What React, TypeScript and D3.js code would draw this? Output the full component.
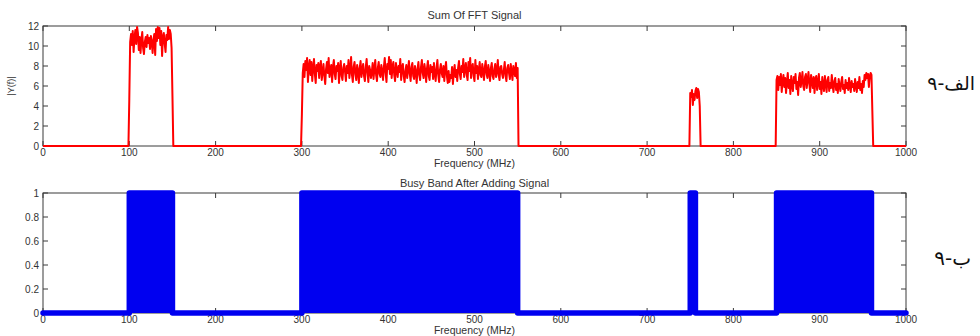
import React from 'react';
import * as d3 from 'd3';

// spectrum magnitude, 1 MHz step; each band starts at its start frequency
const bandStarts = [99, 299, 749, 849];

const band100 = [
  0, 4.7, 10.4, 11.2, 10.1, 11.5, 9.4, 10.8, 11.6, 10.2, 11.9,
  11.3, 9.6, 10.9, 9.3, 10.6, 11.4, 9.8, 9.2, 10.4, 10.9,
  9.9, 11.1, 10.3, 10.8, 9.7, 11.0, 10.4, 9.3, 10.6, 11.2,
  9.1, 11.7, 10.5, 11.9, 10.8, 11.8, 10.1, 11.5, 9.0, 10.9,
  11.3, 10.2, 9.4, 11.1, 10.6, 11.9, 10.7, 11.6, 11.2, 9.8,
  5.0, 0
];

const band300 = [
  0, 3.2,
  7.3, 8.2, 6.9, 8.5, 7.6, 8.8, 6.4, 7.9, 8.6, 7.1,
  8.4, 6.5, 7.8, 8.7, 7.2, 6.3, 8.1, 7.5, 8.3, 6.8,
  7.9, 8.5, 6.6, 7.4, 8.2, 7.0, 6.2, 7.7, 8.4, 7.3,
  8.8, 6.9, 7.6, 8.1, 6.4, 7.9, 8.6, 7.2, 6.7, 8.0,
  7.5, 8.3, 6.3, 7.7, 8.5, 7.0, 6.6, 7.8, 8.2, 7.4,
  6.5, 8.0, 7.3, 8.6, 6.8, 7.6, 8.9, 7.1, 6.4, 7.9,
  8.4, 7.2, 6.6, 8.1, 7.5, 6.3, 7.8, 8.5, 6.9, 7.6,
  8.2, 7.0, 6.5, 7.9, 8.7, 7.3, 6.4, 8.0, 7.6, 6.8,
  7.4, 8.3, 6.7, 7.7, 8.6, 7.1, 6.5, 7.8, 8.4, 7.2,
  6.9, 8.1, 7.5, 6.6, 7.9, 8.8, 7.3, 6.4, 8.2, 7.7,
  8.9, 7.2, 8.6, 6.8, 7.9, 8.4, 7.1, 6.5, 8.3, 7.6,
  6.9, 8.0, 7.4, 8.7, 6.6, 7.8, 8.2, 7.0, 6.4, 7.5,
  8.1, 6.8, 7.6, 8.5, 7.2, 6.5, 7.9, 8.3, 7.0, 6.7,
  8.0, 7.4, 6.3, 7.7, 8.4, 7.1, 6.6, 7.9, 8.6, 7.3,
  6.8, 8.2, 7.5, 6.4, 7.8, 8.5, 7.0, 6.6, 8.1, 7.4,
  7.9, 6.7, 8.3, 7.2, 6.5, 7.8, 8.6, 7.1, 6.4, 7.6,
  8.2, 7.3, 6.9, 8.0, 6.5, 7.7, 8.4, 7.0, 6.3, 7.5,
  6.4, 7.1, 6.8, 7.9, 6.2, 7.4, 8.1, 6.9, 7.6, 6.5,
  7.8, 8.5, 7.2, 6.7, 8.0, 7.4, 8.7, 6.9, 7.7, 8.3,
  7.1, 6.6, 8.4, 7.5, 8.8, 6.8, 7.9, 8.2, 7.0, 6.5,
  8.6, 7.3, 8.0, 6.7, 7.6, 8.4, 7.1, 6.9, 8.2, 7.5,
  6.6, 7.9, 8.5, 7.2, 6.8, 8.1, 7.4, 6.5, 7.8, 8.3,
  7.0, 6.7, 7.7, 8.2, 6.9, 7.5, 8.6, 7.1, 6.6, 7.9,
  8.0, 7.2, 6.8, 7.6, 8.4, 7.0, 6.5, 7.8, 8.1, 7.3,
  6.7, 8.2, 7.4, 6.6, 8.0, 7.5, 7.0, 8.3, 6.8, 7.8,
  0
];

const band750 = [0, 5.3, 4.9, 5.6, 4.1, 5.2, 4.6, 5.5, 5.8, 4.8, 5.7, 5.4, 4.0, 0];

const band850 = [
  0,
  6.6, 7.0, 5.6, 6.9, 6.1, 7.2, 5.4, 6.5, 7.1, 5.9,
  6.8, 5.3, 6.4, 7.3, 5.8, 6.6, 5.2, 7.0, 6.1, 5.5,
  6.9, 6.3, 7.2, 5.7, 6.4, 5.1, 6.8, 7.3, 5.9, 6.5,
  7.4, 6.0, 5.6, 6.9, 7.2, 5.8, 6.6, 7.4, 6.2, 5.4,
  7.1, 6.5, 5.8, 6.9, 5.3, 6.7, 7.0, 5.6, 6.3, 7.2,
  5.7, 6.4, 5.2, 6.9, 6.1, 5.5, 7.0, 6.2, 5.4, 6.6,
  6.9, 5.5, 6.3, 5.8, 7.1, 6.0, 5.4, 6.5, 6.8, 5.6,
  6.2, 5.3, 6.7, 6.0, 5.5, 6.4, 6.9, 5.7, 6.1, 5.3,
  6.6, 5.8, 6.3, 5.6, 6.8, 6.0, 5.4, 6.5, 5.9, 6.2,
  5.5, 6.7, 6.0, 5.4, 6.4, 5.8, 6.9, 5.6, 6.2, 5.3,
  6.5, 5.9, 7.1, 6.6, 7.3, 6.8, 7.2, 5.9, 7.0, 7.3,
  7.1, 3.5, 0
];

const bands = [band100, band300, band750, band850];

// busy bands (detector output 0/1)
const busyStart = [100, 300, 750, 850];
const busyEnd = [150, 550, 756, 960];

const xTicks = [0, 100, 200, 300, 400, 500, 600, 700, 800, 900, 1000];
const yTopTicks = [0, 2, 4, 6, 8, 10, 12];
const yBotTicks = [0, 0.2, 0.4, 0.6, 0.8, 1];

const FONT = '"Liberation Sans", Arial, sans-serif';
const AX = '#3a3a3a';

const x = d3.scaleLinear().domain([0, 1000]).range([43, 906]);
const yTop = d3.scaleLinear().domain([0, 12]).range([146, 26]);
const yBot = d3.scaleLinear().domain([0, 1]).range([313, 193]);

function Frame({ y, yTicks, title, titleY }: any) {
  const [y0, y1] = y.range();
  const [x0, x1] = x.range();
  const tk = 5;
  return (
    <g fontFamily={FONT}>
      {xTicks.map(t => (
        <g key={'x' + t}>
          <line x1={x(t)} x2={x(t)} y1={y0} y2={y0 - tk} stroke={AX} />
          <line x1={x(t)} x2={x(t)} y1={y1} y2={y1 + tk} stroke={AX} />
          <text x={x(t)} y={y0 + 10} fontSize={10} textAnchor="middle" fill="#333">{t}</text>
        </g>
      ))}
      {yTicks.map((t: number) => (
        <g key={'y' + t}>
          <line x1={x0} x2={x0 + tk} y1={y(t)} y2={y(t)} stroke={AX} />
          <line x1={x1} x2={x1 - tk} y1={y(t)} y2={y(t)} stroke={AX} />
          <text x={x0 - 4} y={y(t) + 3.5} fontSize={10} textAnchor="end" fill="#333">{t}</text>
        </g>
      ))}
      <rect x={x0} y={y1} width={x1 - x0} height={y0 - y1} fill="none" stroke={AX} strokeWidth={1} />
      <text x={(x0 + x1) / 2} y={y0 + 21} fontSize={10.5} textAnchor="middle" fill="#333">Frequency (MHz)</text>
      <text x={(x0 + x1) / 2} y={titleY} fontSize={11} textAnchor="middle" fill="#333">{title}</text>
    </g>
  );
}

export default function App() {
  // spectrum line
  const pts: [number, number][] = [[0, 0]];
  bands.forEach((vals, b) => vals.forEach((v, i) => pts.push([bandStarts[b] + i, v])));
  pts.push([1000, 0]);
  const line = d3.line<[number, number]>().x(d => x(d[0])).y(d => yTop(d[1]));

  // busy step line
  const busy: [number, number][] = [[0, 0]];
  busyStart.forEach((s, i) => {
    busy.push([s, 0], [s, 1], [busyEnd[i], 1], [busyEnd[i], 0]);
  });
  busy.push([1000, 0]);
  const bline = d3.line<[number, number]>().x(d => x(d[0])).y(d => yBot(d[1]));
  const area = d3.area<number>().x(d => x(d)).y0(yBot(0)).y1(yBot(1));

  return (
    <svg width={980} height={336} style={{ position: 'absolute', left: 0, top: 0, background: '#fff' }}>
      <Frame y={yTop} yTicks={yTopTicks} title="Sum Of FFT Signal" titleY={19} />
      <text transform={`translate(14,${(26 + 146) / 2}) rotate(-90)`} fontSize={9} fontFamily={FONT}
        textAnchor="middle" fill="#333">|Y(f)|</text>
      <path d={line(pts) || ''} fill="none" stroke="#ff0000" strokeWidth={2} strokeLinejoin="round" />

      <Frame y={yBot} yTicks={yBotTicks} title="Busy Band After Adding Signal" titleY={187} />
      {busyStart.map((s, i) => (
        <path key={'b' + i} d={area([s, busyEnd[i]]) || ''} fill="#0000f0" />
      ))}
      <path d={bline(busy) || ''} fill="none" stroke="#0000f0" strokeWidth={5.5}
        strokeLinejoin="round" strokeLinecap="round" />

      <text x={975} y={90} fontSize={19} fontFamily='"DejaVu Sans", sans-serif' textAnchor="end" fill="#111">۹-الف</text>
      <text x={971} y={265} fontSize={20} fontFamily='"DejaVu Sans", sans-serif' textAnchor="end" fill="#111">۹-ب</text>
    </svg>
  );
}
